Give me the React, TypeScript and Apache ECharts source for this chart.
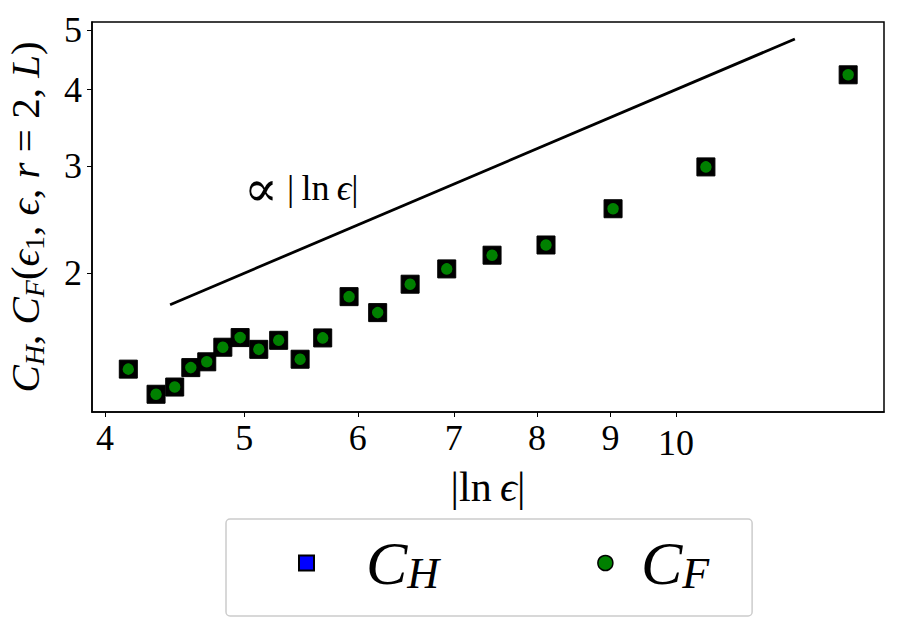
import React, { useEffect, useRef } from 'react';
import * as echarts from 'echarts';

// |ln eps| values (x) and the two correlation measures (y)
const lnEps = [4.152, 4.341, 4.473, 4.59, 4.709, 4.832, 4.968, 5.119, 5.285, 5.47, 5.672, 5.917, 6.195, 6.526, 6.921, 7.443, 8.116, 9.038, 10.49, 13.18];
const cH = [1.393, 1.267, 1.302, 1.401, 1.432, 1.513, 1.569, 1.501, 1.553, 1.446, 1.567, 1.831, 1.724, 1.919, 2.033, 2.141, 2.225, 2.551, 2.987, 4.228];
const cF = [1.393, 1.267, 1.302, 1.401, 1.432, 1.513, 1.569, 1.501, 1.553, 1.446, 1.567, 1.831, 1.724, 1.919, 2.033, 2.141, 2.225, 2.551, 2.987, 4.228];
// guide line  ∝ |ln eps|
const guideX = [4.44, 12.1];
const guideY = [1.776, 4.84];
const xTicks = [4, 5, 6, 7, 8, 9, 10];
const yTicks = [2, 3, 4, 5];

const SERIF = '"Liberation Serif", "DejaVu Serif", serif';

export default function App() {
  const ref = useRef<HTMLDivElement>(null);
  useEffect(() => {
    if (!ref.current) return;
    const chart = echarts.init(ref.current, undefined, { renderer: 'svg' });
    const pairs = (xs: number[], ys: number[]) => xs.map((x, i) => [x, ys[i]]);
    const subRich = (main: number, sub: number, mainLH: number, subLH: number) => ({
      m: { fontSize: main, fontFamily: SERIF, fontStyle: 'italic', color: '#000', lineHeight: mainLH },
      u: { fontSize: main, fontFamily: SERIF, color: '#000', lineHeight: mainLH },
      p: { fontSize: main * 1.4, fontFamily: '"DejaVu Serif", serif', color: '#000', lineHeight: mainLH },
      s: { fontSize: sub, fontFamily: SERIF, fontStyle: 'italic', color: '#000', lineHeight: subLH, verticalAlign: 'bottom' },
      n: { fontSize: sub, fontFamily: SERIF, color: '#000', lineHeight: subLH, verticalAlign: 'bottom' },
    });
    const tickLabel = {
      fontSize: 36,
      fontFamily: SERIF,
      color: '#000',
    };
    const legendRich = subRich(62, 44, 64, 38);
    chart.setOption({
      animation: false,
      backgroundColor: '#fff',
      grid: {
        left: 92,
        top: 22,
        right: 23,
        bottom: 219,
        outerBoundsMode: 'none',
        containLabel: false,
        show: true,
        borderColor: '#000',
        borderWidth: 1.5,
        backgroundColor: 'transparent',
      },
      legend: {
        left: 226,
        top: 519,
        orient: 'horizontal',
        data: [
          {
            name: 'C_H',
            icon: 'rect',
            itemStyle: { color: '#0000ff', borderColor: '#000', borderWidth: 2 },
            textStyle: { padding: [0, 0, 0, 47], rich: legendRich },
          },
          {
            name: 'C_F',
            icon: 'circle',
            itemStyle: { color: '#008000', borderColor: '#000', borderWidth: 1.5 },
            textStyle: { padding: [0, 0, 0, 23], rich: legendRich },
          },
        ],
        itemWidth: 15,
        itemHeight: 15,
        itemGap: 158,
        padding: [13, 43, 21, 72],
        borderColor: '#cccccc',
        borderWidth: 1.5,
        borderRadius: 4,
        backgroundColor: '#fff',
        formatter: (name: string) => (name === 'C_H' ? '{m|C}{s|H}' : '{m|C}{s|F}'),
        textStyle: { rich: legendRich },
      },
      xAxis: {
        type: 'log',
        logBase: 10,
        min: 3.917,
        max: 13.96,
        name: '{u||ln\u2009}{m|ϵ}{u||}',
        nameLocation: 'middle',
        nameGap: 50,
        nameTextStyle: { rich: subRich(42, 28, 48, 24) },
        axisLine: { show: true, lineStyle: { color: '#000', width: 1.5 } },
        axisTick: { show: true, customValues: xTicks, length: 5, lineStyle: { color: '#000', width: 1 } },
        axisLabel: {
          customValues: xTicks,
          ...tickLabel,
          margin: 8,
          formatter: (v: number) => (Math.round(v) === 10 ? '{t|10}' : String(Math.round(v))),
          rich: { t: { ...tickLabel, padding: [5, 0, 0, 0] } },
        },
        splitLine: { show: false },
        minorTick: { show: false },
      },
      yAxis: {
        type: 'log',
        logBase: 10,
        min: 1.185,
        max: 5.16,
        name: '{m|C}{s|H}{u|, }{m|C}{s|F}{u|(}{m|ϵ}{n|1}{u|, }{m|ϵ}{u|, }{m|r}{u| = 2, }{m|L}{u|)}',
        nameLocation: 'middle',
        nameRotate: 90,
        nameGap: 44,
        nameTextStyle: { rich: subRich(41, 28, 46, 24) },
        axisLine: { show: true, lineStyle: { color: '#000', width: 1.5 } },
        axisTick: { show: true, customValues: yTicks, length: 5, lineStyle: { color: '#000', width: 1 } },
        axisLabel: {
          customValues: yTicks,
          ...tickLabel,
          margin: 10,
          formatter: (v: number) => String(Math.round(v)),
        },
        splitLine: { show: false },
        minorTick: { show: false },
      },
      graphic: [
        {
          type: 'text',
          left: 244,
          top: 163,
          style: {
            text: '{p|∝}{u| |\u2009ln\u2009}{m|ϵ}{u||}',
            rich: subRich(36, 24, 42, 20),
          },
        },
      ],
      series: [
        {
          name: 'guide',
          type: 'line',
          data: pairs(guideX, guideY),
          showSymbol: false,
          symbol: 'none',
          lineStyle: { color: '#000', width: 2.8 },
          z: 1,
        },
        {
          name: 'C_H',
          type: 'scatter',
          symbol: 'rect',
          symbolSize: 18,
          data: pairs(lnEps, cH),
          itemStyle: { color: '#000', borderColor: '#000', borderWidth: 1, opacity: 1 },
          z: 2,
        },
        {
          name: 'C_F',
          type: 'scatter',
          symbol: 'circle',
          symbolSize: 13,
          data: pairs(lnEps, cF),
          itemStyle: { color: '#008000', borderColor: '#000', borderWidth: 1.5, opacity: 1 },
          z: 3,
        },
      ],
    });
    return () => chart.dispose();
  }, []);
  return <div ref={ref} style={{ width: 907, height: 631, position: 'absolute', left: 0, top: 0 }} />;
}
